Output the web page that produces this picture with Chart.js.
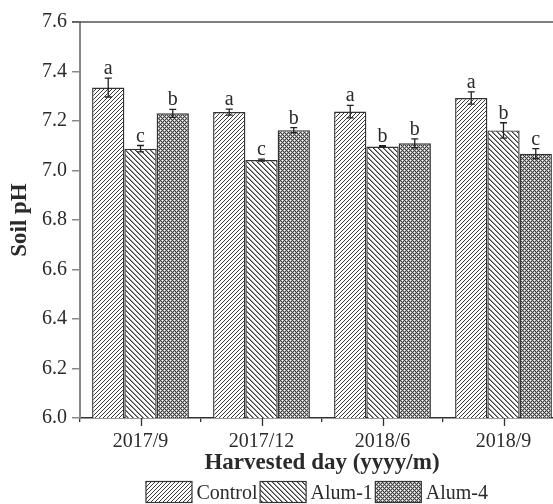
<!DOCTYPE html>
<html>
<head>
<meta charset="utf-8">
<title>Soil pH by harvest day</title>
<script src="https://cdn.jsdelivr.net/npm/chart.js@4/dist/chart.umd.min.js"></script>
<style>
  html, body { margin: 0; padding: 0; background: #fff; overflow: hidden; }
  #wrap { width: 553px; height: 504px; overflow: hidden; }
  canvas { display: block; }
</style>
</head>
<body>
<div id="wrap"><canvas id="c" width="580" height="504"></canvas></div>
<script>
// Harvest dates
const categories = ['2017/9', '2017/12', '2018/6', '2018/9'];

// Mean soil pH per treatment
const control = [7.335, 7.236, 7.238, 7.293];
const alum1   = [7.088, 7.042, 7.097, 7.162];
const alum4   = [7.231, 7.163, 7.110, 7.068];

// Standard errors
const controlErr = [0.038, 0.012, 0.025, 0.025];
const alum1Err   = [0.013, 0.004, 0.003, 0.031];
const alum4Err   = [0.016, 0.010, 0.018, 0.020];

// Significance letters
const controlSig = ['a', 'a', 'a', 'a'];
const alum1Sig   = ['c', 'c', 'b', 'b'];
const alum4Sig   = ['b', 'b', 'b', 'c'];

// Y axis tick labels
const yTicks = ['6.0', '6.2', '6.4', '6.6', '6.8', '7.0', '7.2', '7.4', '7.6'];

const seriesNames = ['Control', 'Alum-1', 'Alum-4'];

const SERIF = "'Liberation Serif', 'Times New Roman', serif";
const INK = '#2a2a2a';

// Pixel hatch fills: each tile pixel gets a grey level from the rule
function makePattern(size, level) {
  const t = document.createElement('canvas');
  t.width = size; t.height = size;
  const g = t.getContext('2d');
  const img = g.createImageData(size, size);
  for (let yy = 0; yy < size; yy++) {
    for (let xx = 0; xx < size; xx++) {
      const k = (yy * size + xx) * 4;
      const c = level(xx, yy, size);
      img.data[k] = c; img.data[k + 1] = c; img.data[k + 2] = c; img.data[k + 3] = 255;
    }
  }
  g.putImageData(img, 0, 0);
  return g.createPattern(t, 'repeat');
}

const mod = (a, n) => ((a % n) + n) % n;

// diagonal crosshatch: dark on the lines, white dots between them
function crossLevel(x, y) {
  const s = mod(x + y, 4), d = mod(x - y, 4);
  if (s === 0 || d === 0) return 65;
  if (s === 2 && d === 2) return 255;
  return 175;
}

const fills = [
  // forward slashes
  makePattern(4, (x, y, n) => mod(x + y, n) === 0 ? 60 : 255),
  // back slashes
  makePattern(5, (x, y, n) => mod(x - y, n) === 0 ? 60 : (mod(x - y, n) === 1 ? 150 : 255)),
  makePattern(4, crossLevel)
];
const errs = [controlErr, alum1Err, alum4Err];
const sigs = [controlSig, alum1Sig, alum4Sig];

// Error bars, letters, frame details and legend
const decorations = {
  id: 'decorations',
  afterDatasetsDraw(chart) {
    const ctx = chart.ctx;
    const y = chart.scales.y;
    const x = chart.scales.x;
    const area = chart.chartArea;
    ctx.save();
    chart.data.datasets.forEach((ds, i) => {
      const meta = chart.getDatasetMeta(i);
      meta.data.forEach((bar, j) => {
        const v = ds.data[j];
        const e = errs[i][j];
        const top = y.getPixelForValue(v + e);
        const bot = y.getPixelForValue(v - e);
        const cx = bar.x;
        ctx.strokeStyle = '#222';
        ctx.lineWidth = 1.3;
        ctx.beginPath();
        ctx.moveTo(cx, top); ctx.lineTo(cx, bot);
        ctx.moveTo(cx - 3.5, top); ctx.lineTo(cx + 3.5, top);
        ctx.moveTo(cx - 3.5, bot); ctx.lineTo(cx + 3.5, bot);
        ctx.stroke();
        ctx.fillStyle = INK;
        ctx.font = '20px ' + SERIF;
        ctx.textAlign = 'center';
        ctx.textBaseline = 'alphabetic';
        ctx.fillText(sigs[i][j], cx, top - 4);
      });
    });

    // top frame line
    ctx.strokeStyle = '#555';
    ctx.lineWidth = 1.5;
    ctx.beginPath();
    ctx.moveTo(area.left - 8, area.top);
    ctx.lineTo(chart.width, area.top);
    ctx.stroke();

    // major ticks under each category
    ctx.strokeStyle = '#333';
    ctx.lineWidth = 1.3;
    ctx.beginPath();
    categories.forEach((c, j) => {
      const px = Math.round(x.getPixelForValue(j)) + 0.5;
      ctx.moveTo(px, area.bottom);
      ctx.lineTo(px, area.bottom + 8);
    });
    ctx.stroke();

    // legend
    ctx.font = '20px ' + SERIF;
    ctx.textBaseline = 'alphabetic';
    ctx.textAlign = 'left';
    const boxW = 46, boxH = 21, gapText = 4.5, gapItem = 2.5;
    let total = 0;
    seriesNames.forEach((n, i) => {
      total += boxW + gapText + ctx.measureText(n).width + (i < seriesNames.length - 1 ? gapItem : 0);
    });
    let lx = (area.left + area.right) / 2 - 5 - total / 2;
    const ly = 481.5;
    seriesNames.forEach((n, i) => {
      ctx.fillStyle = fills[i];
      ctx.fillRect(lx, ly, boxW, boxH);
      ctx.strokeStyle = '#333';
      ctx.lineWidth = 1.2;
      ctx.strokeRect(lx, ly, boxW, boxH);
      ctx.fillStyle = INK;
      ctx.fillText(n, lx + boxW + gapText, 498.5);
      lx += boxW + gapText + ctx.measureText(n).width + gapItem;
    });
    ctx.restore();
  }
};

new Chart(document.getElementById('c'), {
  type: 'bar',
  data: {
    labels: categories,
    datasets: [control, alum1, alum4].map((d, i) => ({
      label: seriesNames[i],
      data: d,
      backgroundColor: fills[i],
      borderColor: '#333',
      borderWidth: 1.4,
      borderSkipped: 'bottom',
      categoryPercentage: 0.8,
      barPercentage: 1.0
    }))
  },
  options: {
    responsive: false,
    devicePixelRatio: 1,
    animation: false,
    layout: { padding: { top: 22, right: 16, left: 0, bottom: 0 } },
    plugins: { legend: { display: false }, tooltip: { enabled: false } },
    scales: {
      x: {
        offset: true,
        grid: { display: true, offset: true, drawOnChartArea: false, tickLength: 4, color: '#333', lineWidth: 1.3 },
        border: { display: true, color: '#333', width: 1.5 },
        ticks: { color: INK, font: { family: SERIF, size: 20 }, padding: 8, maxRotation: 0 },
        title: {
          display: true,
          text: 'Harvested day (yyyy/m)',
          color: INK,
          font: { family: SERIF, size: 23, weight: 'bold' },
          padding: { top: 0, bottom: 27 }
        },
        afterFit(scale) { scale.height = 86; }
      },
      y: {
        min: 6.0,
        max: 7.6,
        ticks: {
          stepSize: 0.2,
          color: INK,
          font: { family: SERIF, size: 20 },
          padding: 5,
          callback: (v, idx) => yTicks[idx]
        },
        grid: { display: true, drawOnChartArea: false, tickLength: 8, color: '#888', lineWidth: 1.5 },
        border: { display: true, color: '#888', width: 2 },
        title: {
          display: true,
          text: 'Soil pH',
          color: INK,
          font: { family: SERIF, size: 23, weight: 'bold' },
          padding: { top: 6, bottom: 0 }
        },
        afterFit(scale) { scale.width = 80; }
      }
    }
  },
  plugins: [decorations]
});
</script>
</body>
</html>
